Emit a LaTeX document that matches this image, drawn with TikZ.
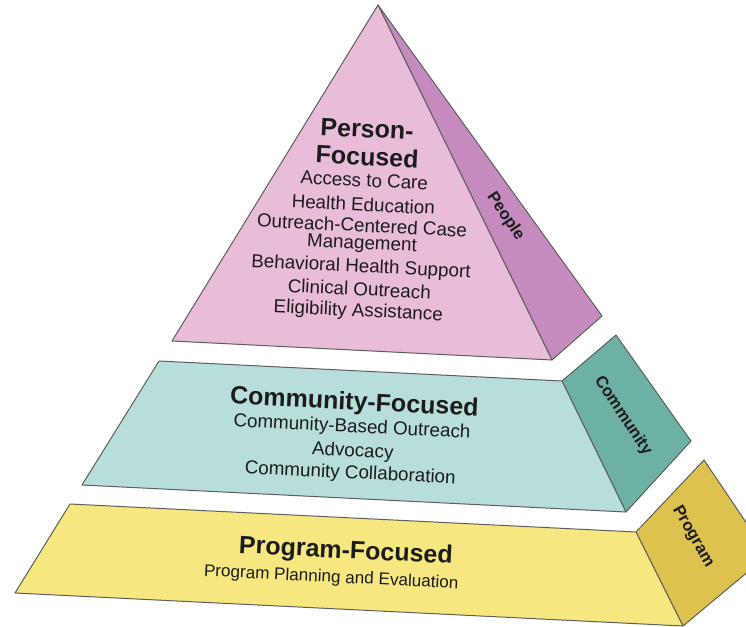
\documentclass[tikz,border=0pt]{standalone}
\usepackage{fontspec}
\setmainfont{Liberation Sans}
\definecolor{pinkF}{HTML}{E9BDD7}
\definecolor{pinkS}{HTML}{C68BBE}
\definecolor{tealF}{HTML}{B7DEDB}
\definecolor{tealS}{HTML}{6DB1A4}
\definecolor{yelF}{HTML}{F6E780}
\definecolor{yelS}{HTML}{DDC24F}
\definecolor{edgec}{HTML}{5E5E5E}
\definecolor{txt}{HTML}{1C1C1C}
\tikzset{
  face/.style={draw=edgec, line width=1pt, line join=round},
  head/.style={anchor=base, rotate=-2.8, inner sep=0pt, text=txt, font=\fontsize{25}{28}\selectfont\bfseries},
  item/.style={anchor=base, rotate=-2.8, inner sep=0pt, text=txt, font=\fontsize{18.8}{22}\selectfont},
  itemsmall/.style={anchor=base, rotate=-2.8, inner sep=0pt, text=txt, font=\fontsize{17.1}{20}\selectfont},
  sidelbl/.style={anchor=center, inner sep=0pt, text=txt, font=\fontsize{16.5}{19}\selectfont\bfseries}
}
\begin{document}
\begin{tikzpicture}[x=1pt,y=-1pt]
\useasboundingbox (0,0) rectangle (746,626);
\clip (0,0) rectangle (746,626);
\fill[white] (0,0) rectangle (746,626);
% top pyramid
\coordinate (pA) at (378,5);
\coordinate (pL) at (172,341);
\coordinate (pR) at (552,360);
\coordinate (pS) at (602,316);
\filldraw[face, fill=pinkS] (pA) -- (pS) -- (pR) -- cycle;
\filldraw[face, fill=pinkF] (pA) -- (pR) -- (pL) -- cycle;
% middle band
\coordinate (tTL) at (159,361);
\coordinate (tTR) at (562,381);
\coordinate (tBR) at (626,512);
\coordinate (tBL) at (82,485);
\coordinate (tST) at (616,335);
\coordinate (tSB) at (691,441);
\filldraw[face, fill=tealS] (tTR) -- (tST) -- (tSB) -- (tBR) -- cycle;
\filldraw[face, fill=tealF] (tTL) -- (tTR) -- (tBR) -- (tBL) -- cycle;
% bottom band
\coordinate (yTL) at (70,504);
\coordinate (yTR) at (636,532);
\coordinate (yBR) at (683,626);
\coordinate (yBL) at (15,593);
\coordinate (yST) at (704,460);
\coordinate (ySB) at (768,555);
\filldraw[face, fill=yelS] (yTR) -- (yST) -- (ySB) -- (yBR) -- cycle;
\filldraw[face, fill=yelF] (yTL) -- (yTR) -- (yBR) -- (yBL) -- cycle;
% person-focused text
\node[head] (h1a) at (366.7,137.5) {Person-};
\node[head] (h1b) at (366.7,165.5) {Focused};
\node[item] (i1) at (364,186.7) {Access to Care};
\node[item] (i2) at (363,211) {Health Education};
\node[item] (i3) at (361.7,232) {Outreach-Centered Case};
\node[item] (i4) at (361.7,249) {Management};
\node[item] (i5) at (360.7,272.5) {Behavioral Health Support};
\node[item] (i6) at (359,295.5) {Clinical Outreach};
\node[item] (i7) at (358,316.5) {Eligibility Assistance};
% community-focused text
\node[head] (h2) at (354,410) {Community-Focused};
\node[item] (c1) at (351.7,432.3) {Community-Based Outreach};
\node[item] (c2) at (352.5,456.7) {Advocacy};
\node[item] (c3) at (350,478.5) {Community Collaboration};
% program-focused text
\node[head] (h3) at (345.5,558.3) {Program-Focused};
\node[itemsmall] (p1) at (331,582.3) {Program Planning and Evaluation};
% side labels
\node[sidelbl, rotate=-56] (sPeople) at (505.5,216.5) {People};
\node[sidelbl, rotate=-56.3] (sComm) at (623,416) {Community};
\node[sidelbl, rotate=-60] (sProg) at (693,536.5) {Program};
\end{tikzpicture}
\end{document}
